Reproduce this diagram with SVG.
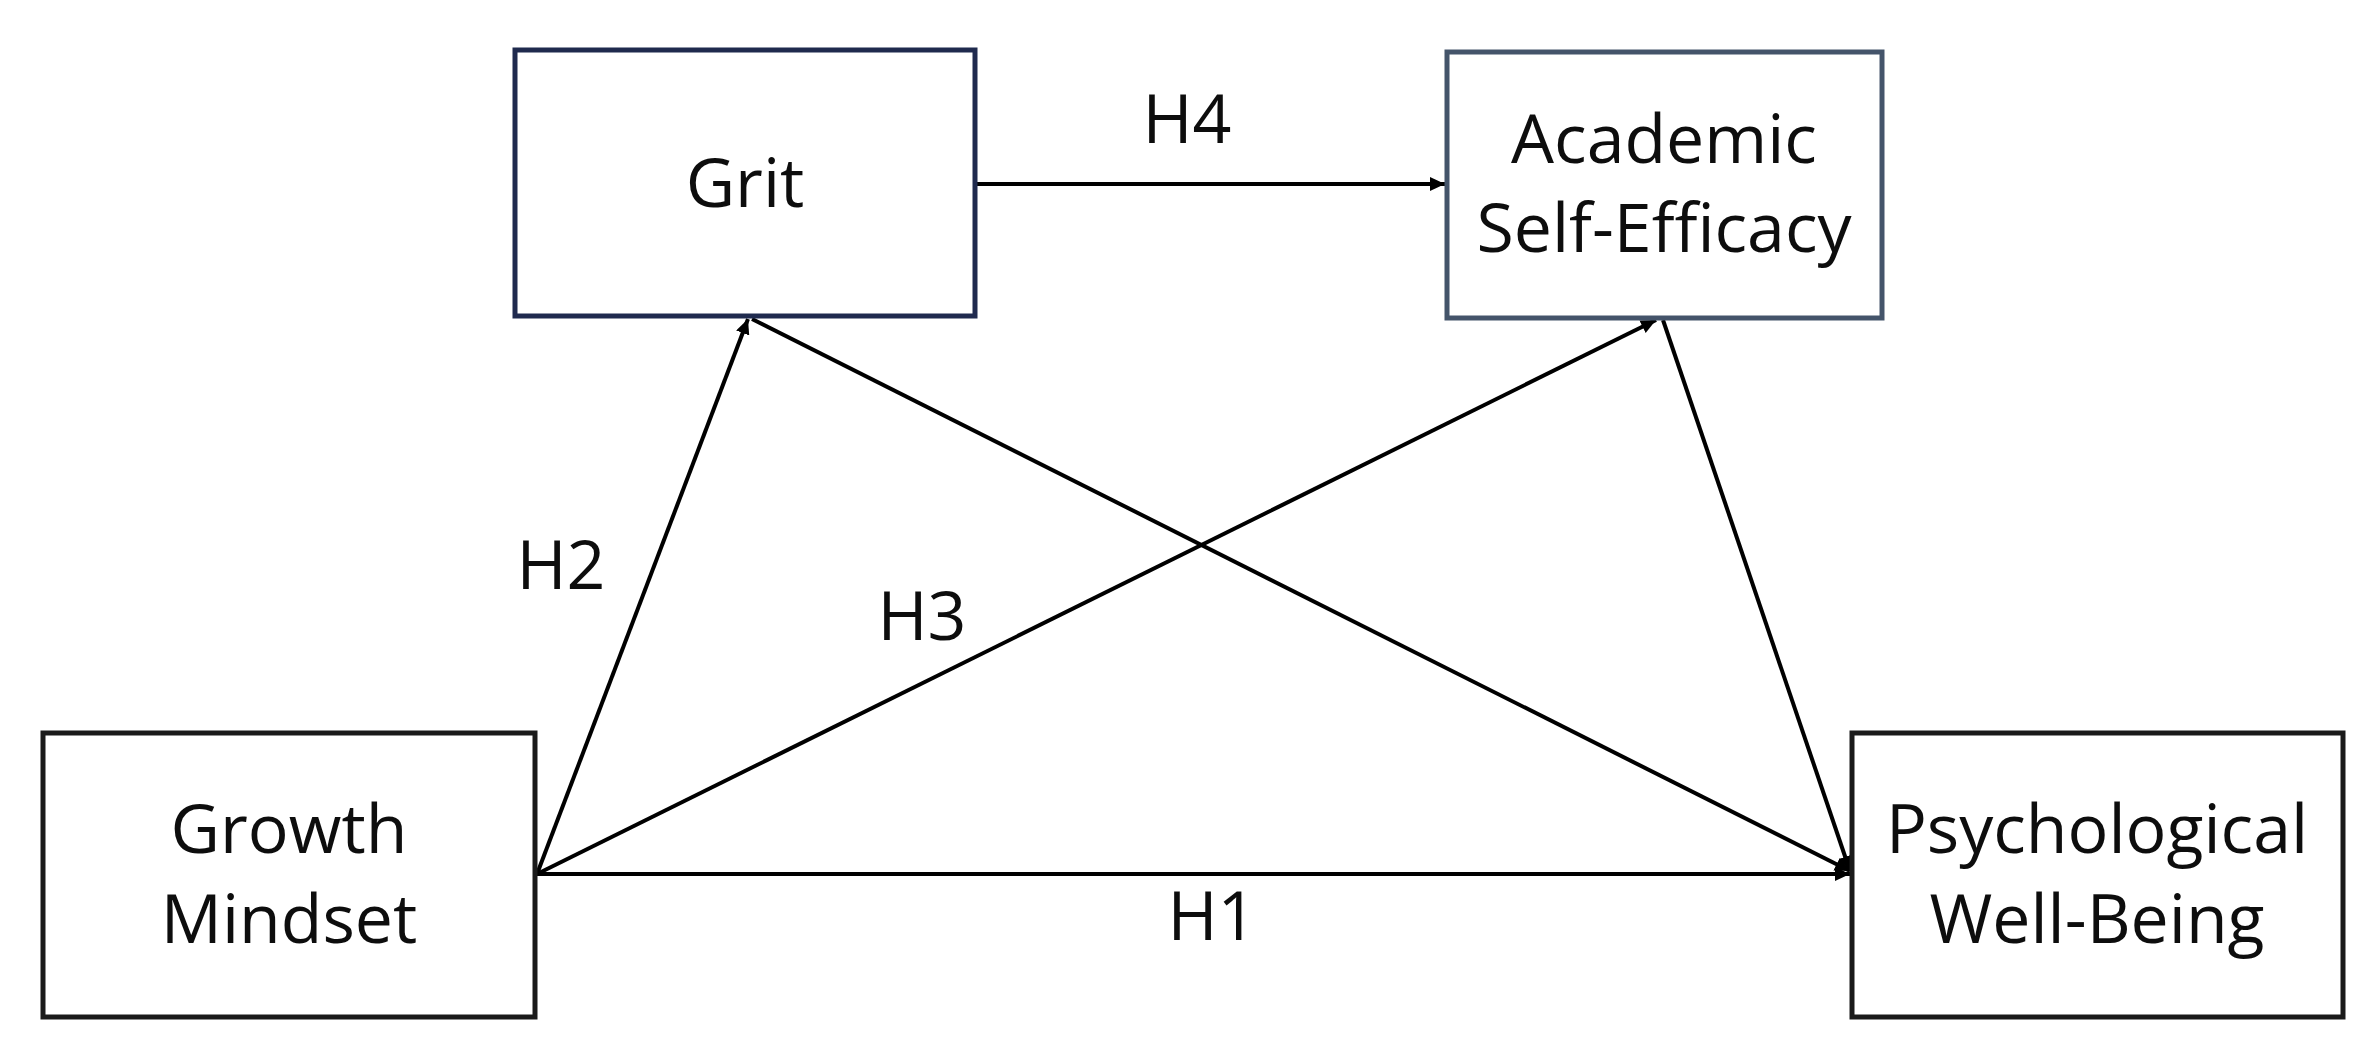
<svg xmlns="http://www.w3.org/2000/svg" width="2374" height="1056" viewBox="0 0 2374 1056">
  <style>
    .box { fill: #ffffff; stroke-width: 5; }
    .navy { stroke: #1f2a4e; }
    .slate { stroke: #44546a; }
    .dark { stroke: #1a1a1a; }
    .lbl { font-family: "Open Sans", "Noto Sans", "DejaVu Sans", sans-serif; font-size: 68px; fill: #0d0d0d; text-anchor: middle; }
    .edge { stroke: #000000; stroke-width: 4; fill: none; marker-end: url(#arrow); }
  </style>
  <defs>
    <marker id="arrow" markerUnits="userSpaceOnUse" markerWidth="16" markerHeight="14" refX="15" refY="7" orient="auto">
      <path d="M0,0 L15,7 L0,14 z" fill="#000000"/>
    </marker>
  </defs>
  <rect width="2374" height="1056" fill="#ffffff"/>

  <g id="connectors">
    <line id="h1" class="edge" x1="537" y1="874" x2="1850" y2="874"/>
    <line id="h2" class="edge" x1="537" y1="874" x2="748" y2="319"/>
    <line id="h3" class="edge" x1="537" y1="874" x2="1656" y2="320"/>
    <line id="h4" class="edge" x1="977" y1="184" x2="1445" y2="184"/>
    <line id="grit-pwb" class="edge" x1="752" y1="319" x2="1850" y2="871"/>
    <line id="ase-pwb" class="edge" x1="1663" y1="320" x2="1850" y2="871"/>
    <text class="lbl" x="1187" y="143">H4</text>
    <text class="lbl" x="561" y="589">H2</text>
    <text class="lbl" x="922" y="640">H3</text>
    <text class="lbl" x="1212" y="940">H1</text>
  </g>

  <g id="grit">
    <rect class="box navy" x="515" y="50" width="460" height="266"/>
    <text class="lbl" x="745" y="207">Grit</text>
  </g>

  <g id="academic-self-efficacy">
    <rect class="box slate" x="1447" y="52" width="435" height="266"/>
    <text class="lbl" x="1664" y="163">Academic</text>
    <text class="lbl" x="1664" y="252">Self-Efficacy</text>
  </g>

  <g id="growth-mindset">
    <rect class="box dark" x="43" y="733" width="492" height="284"/>
    <text class="lbl" x="289" y="853">Growth</text>
    <text class="lbl" x="289" y="943">Mindset</text>
  </g>

  <g id="psychological-well-being">
    <rect class="box dark" x="1852" y="733" width="491" height="284"/>
    <text class="lbl" x="2097" y="853">Psychological</text>
    <text class="lbl" x="2097" y="943">Well-Being</text>
  </g>
</svg>
